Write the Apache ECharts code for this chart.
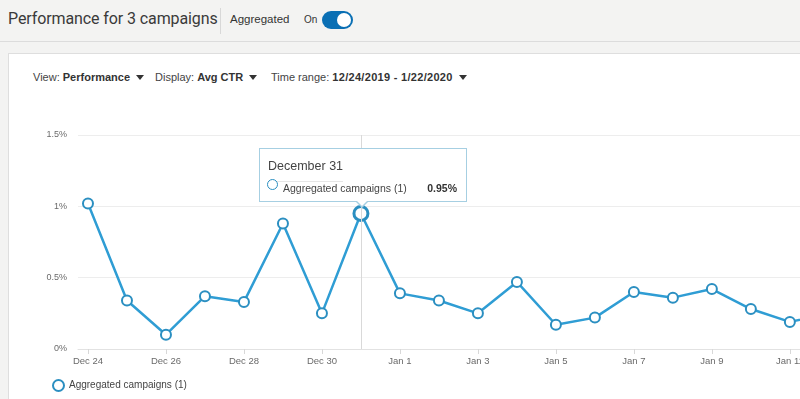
<!DOCTYPE html>
<html>
<head>
<meta charset="utf-8">
<script src="https://cdn.jsdelivr.net/npm/echarts@6/dist/echarts.min.js"></script>
<style>
  html, body { margin:0; padding:0; width:800px; height:399px; overflow:hidden; background:#f3f3f2; font-family:"Liberation Sans", Arial, sans-serif; color:#333; }
  #header { position:absolute; left:0; top:0; width:800px; height:41px; background:#f3f3f2; border-bottom:1px solid #dcdcdc; }
  #title { position:absolute; left:8px; top:9px; font-size:16px; letter-spacing:-0.1px; font-family:Roboto, "Liberation Sans", sans-serif; color:#3a3a3a; white-space:nowrap; }
  #divider { position:absolute; left:220px; top:8px; width:1px; height:26px; background:#d8d8d8; }
  #agg { position:absolute; left:230px; top:13px; font-size:11.5px; color:#333; }
  #on { position:absolute; left:304px; top:14px; font-size:10px; color:#333; }
  #toggle { position:absolute; left:322px; top:11px; width:31px; height:18px; border-radius:9px; background:#0a6fb4; }
  #knob { position:absolute; right:2px; top:2px; width:14px; height:14px; border-radius:7px; background:#fff; }
  #card { position:absolute; left:8px; top:53px; width:820px; height:360px; background:#fff; border:1px solid #dedede; }
  #controls { position:absolute; left:33px; top:71px; font-size:11px; color:#444; white-space:nowrap; }
  .ctl { position:absolute; top:0; white-space:nowrap; }
  .ctl b { color:#333; }
  .tri { display:inline-block; width:0; height:0; border-left:4.5px solid transparent; border-right:4.5px solid transparent; border-top:5px solid #333; margin-left:6px; vertical-align:middle; position:relative; top:-1px; }
  #chart { position:absolute; left:0; top:0; width:800px; height:399px; }
</style>
</head>
<body>
<div id="header">
  <div id="title">Performance for 3 campaigns</div>
  <div id="divider"></div>
  <div id="agg">Aggregated</div>
  <div id="on">On</div>
  <div id="toggle"><div id="knob"></div></div>
</div>
<div id="card"></div>
<div id="controls">
  <span class="ctl" style="left:0">View: <b>Performance</b><span class="tri"></span></span>
  <span class="ctl" style="left:122px">Display: <b>Avg CTR</b><span class="tri"></span></span>
  <span class="ctl" style="left:238px">Time range: <b style="letter-spacing:0.3px">12/24/2019 - 1/22/2020</b><span class="tri"></span></span>
</div>
<div id="chart"></div>
<script>
const categories = ["Dec 24","Dec 25","Dec 26","Dec 27","Dec 28","Dec 29","Dec 30","Dec 31",
  "Jan 1","Jan 2","Jan 3","Jan 4","Jan 5","Jan 6","Jan 7","Jan 8","Jan 9","Jan 10","Jan 11","Jan 12"];
const ctrValues = [1.02, 0.34, 0.10, 0.37, 0.33, 0.88, 0.25, 0.95,
  0.39, 0.34, 0.25, 0.47, 0.17, 0.22, 0.40, 0.36, 0.42, 0.28, 0.19, 0.25];
const labelIndices = [0, 2, 4, 6, 8, 10, 12, 14, 16, 18];
const seriesName = "Aggregated campaigns (1)";
const monthNames = { Dec: "December", Jan: "January" };
const tooltipIndex = 7;

const lineColor = "#2b8fc1";
const chart = echarts.init(document.getElementById("chart"), null, { renderer: "canvas" });

const option = {
  animation: false,
  backgroundColor: "transparent",
  textStyle: { fontFamily: "Liberation Sans, Arial, sans-serif" },
  grid: { left: 78, top: 135, bottom: 50, right: 0, containLabel: false, outerBoundsMode: "none" },
  xAxis: {
    type: "value",
    min: -0.256,
    max: 18.26,
    splitLine: { show: false },
    axisLine: { show: true, lineStyle: { color: "#e2e2e2", width: 1 } },
    axisTick: { show: true, customValues: labelIndices, length: 5, lineStyle: { color: "#d8d8d8" } },
    axisLabel: {
      customValues: labelIndices,
      formatter: v => categories[Math.round(v)],
      color: "#6a6a6a", fontSize: 9.5, margin: 7, showMaxLabel: true, hideOverlap: false
    },
    axisPointer: { snap: true }
  },
  yAxis: {
    type: "value",
    min: 0, max: 1.5, interval: 0.5,
    axisLine: { show: false },
    axisTick: { show: false },
    splitLine: { lineStyle: { color: "#ededed", width: 1 } },
    axisLabel: { formatter: v => v + "%", color: "#6a6a6a", fontSize: 9, margin: 11 }
  },
  legend: {
    left: 52, top: 379, padding: 0,
    icon: "circle",
    itemWidth: 11, itemHeight: 11, itemGap: 10,
    itemStyle: { color: "#fff", borderColor: lineColor, borderWidth: 2 },
    textStyle: { color: "#444", fontSize: 10 },
    data: [seriesName]
  },
  tooltip: {
    trigger: "axis",
    alwaysShowContent: true,
    transitionDuration: 0,
    padding: 0,
    borderWidth: 0,
    backgroundColor: "transparent",
    extraCssText: "box-shadow:none;border-radius:0;overflow:visible;",
    axisPointer: { type: "line", snap: true, lineStyle: { color: "#d9d9d9", width: 1, type: "solid" } },
    position: function (point) { return [point[0] - 102, point[1] - 65]; },
    formatter: function (params) {
      const p = params[0];
      const idx = Math.round(p.value[0]);
      const parts = categories[idx].split(" ");
      const title = monthNames[parts[0]] + " " + parts[1];
      return '<div style="position:relative;width:206px;height:52px;background:#fff;border:1px solid #a6cfe2;font-family:Liberation Sans, Arial, sans-serif;">' +
        '<div style="position:absolute;left:8px;top:7px;font-size:12.5px;color:#444;padding-bottom:4px;border-bottom:1px solid #e6e6e6;">' + title + '</div>' +
        '<div style="position:absolute;left:7px;top:30px;width:9px;height:9px;border:1.6px solid ' + lineColor + ';border-radius:50%;background:#fff;"></div>' +
        '<div style="position:absolute;left:23px;top:29px;font-size:10.5px;color:#444;">' + p.seriesName + '</div>' +
        '<div style="position:absolute;right:9px;top:29px;font-size:10.5px;font-weight:bold;color:#333;">' + p.value[1].toFixed(2) + '%</div>' +
        '<div style="position:absolute;left:96px;bottom:-7px;width:0;height:0;border-left:6px solid transparent;border-right:6px solid transparent;border-top:6px solid #a6cfe2;"></div>' +
        '<div style="position:absolute;left:97px;bottom:-5px;width:0;height:0;border-left:5px solid transparent;border-right:5px solid transparent;border-top:5px solid #fff;"></div>' +
        '</div>';
    }
  },
  series: [{
    name: seriesName,
    type: "line",
    data: ctrValues.map((v, i) => [i, v]),
    symbol: "circle",
    symbolSize: 10,
    clip: true,
    lineStyle: { color: lineColor, width: 2.5 },
    itemStyle: { color: "#fff", borderColor: lineColor, borderWidth: 2 },
    emphasis: { scale: 1.4, lineStyle: { width: 2.5 }, itemStyle: { color: "#fff", borderColor: lineColor, borderWidth: 3 } },
    z: 3
  }]
};
chart.setOption(option);
chart.dispatchAction({ type: "showTip", seriesIndex: 0, dataIndex: tooltipIndex });
chart.dispatchAction({ type: "highlight", seriesIndex: 0, dataIndex: tooltipIndex });
</script>
</body>
</html>
